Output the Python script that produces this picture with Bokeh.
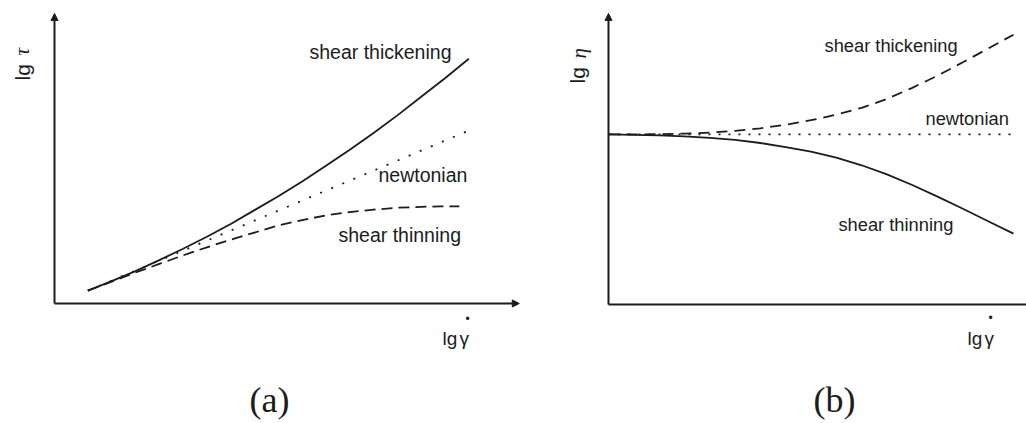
from bokeh.plotting import figure
from bokeh.models import Range1d, Label, Arrow, NormalHead
from bokeh.layouts import row
from bokeh.embed import file_html
from bokeh.resources import INLINE

# ---- (a) flow curves: lg(shear stress) against lg(shear rate) ----
a_rate = [0.7, 1.2, 1.7, 2.2, 2.7, 3.2, 3.7, 4.2, 4.7, 5.2, 5.7, 6.2, 6.7, 7.2, 7.7, 8.2, 8.7]
a_thickening = [0.27, 0.47, 0.68, 0.91, 1.15, 1.40, 1.67, 1.96, 2.25, 2.56, 2.89, 3.23,
                3.58, 3.95, 4.34, 4.73, 5.14]
a_newtonian = [0.27, 0.48, 0.69, 0.90, 1.11, 1.32, 1.53, 1.74, 1.95, 2.16, 2.37, 2.58,
               2.79, 3.00, 3.21, 3.42, 3.63]
a_thin_rate = [0.7, 1.2, 1.7, 2.2, 2.7, 3.2, 3.7, 4.2, 4.7, 5.2, 5.7, 6.2, 6.7, 7.2, 7.7, 8.1, 8.5]
a_thinning = [0.27, 0.46, 0.65, 0.83, 1.01, 1.18, 1.34, 1.49, 1.64, 1.75, 1.85, 1.92,
              1.97, 2.01, 2.03, 2.04, 2.04]

# ---- (b) viscosity curves: lg(viscosity) against lg(shear rate) ----
b_rate = [0, 0.5, 1, 1.5, 2, 2.5, 3, 3.5, 4, 4.5, 5, 5.5, 6, 6.5, 7, 7.5, 8]
b_thickening = [3.36, 3.36, 3.365, 3.375, 3.395, 3.43, 3.48, 3.55, 3.64, 3.75, 3.885,
                4.06, 4.28, 4.52, 4.785, 5.055, 5.33]
b_thinning = [3.36, 3.35, 3.34, 3.32, 3.29, 3.25, 3.19, 3.11, 3.02, 2.90, 2.75, 2.57,
              2.36, 2.13, 1.89, 1.645, 1.40]
b_newt_rate = [0, 8.1]
b_newtonian = [3.36, 3.36]

INK = "#1c1c1c"
SANS = "Liberation Sans"
SERIF = "Liberation Serif"
SHIFT = 0.3  # em; lifts each label so its baseline sits where it is placed


def panel(width, xr, yr):
    return figure(width=width, height=423, x_range=Range1d(*xr), y_range=Range1d(*yr),
                  x_axis_type=None, y_axis_type=None, toolbar_location=None,
                  output_backend="svg", min_border=0, outline_line_color=None,
                  background_fill_color="white", border_fill_color="white")


def axes_arrows(p, x_end, y_end):
    for xe, ye in ((x_end, 0), (0, y_end)):
        p.add_layout(Arrow(x_start=0, y_start=0, x_end=xe, y_end=ye, line_width=2,
                           line_color=INK,
                           end=NormalHead(size=7, fill_color=INK, line_color=INK)))


def text(p, unit, x, y, s, size, font=SANS, align="left", rotated=False, style="normal"):
    lift = SHIFT * size / unit
    if rotated:
        x, angle = x - lift, 1.5708
    else:
        y, angle = y + lift, 0
    p.add_layout(Label(x=x, y=y, text=s, text_font=font, text_font_size=f"{size}px",
                       text_color=INK, text_align=align, text_baseline="alphabetic",
                       angle=angle, text_font_style=style))


# panel (a)
UA = 47.625
pa = panel(540, (-1.134, 10.205), (-2.52, 6.362))
axes_arrows(pa, 9.76, 6.09)
pa.line(a_rate, a_thickening, line_color=INK, line_width=1.8)
pa.line(a_rate, a_newtonian, line_color=INK, line_width=1.8, line_dash="2 10")
pa.line(a_thin_rate, a_thinning, line_color=INK, line_width=1.8, line_dash="11 6")
text(pa, UA, 5.354, 5.165, "shear thickening", 19.5)
text(pa, UA, 6.803, 2.583, "newtonian", 19.5)
text(pa, UA, 5.963, 1.323, "shear thinning", 19.5)
text(pa, UA, -0.546, 4.682, "lg", 21, rotated=True)
text(pa, UA, -0.546, 5.207, "τ", 21, font=SERIF, rotated=True, style="italic")
text(pa, UA, 8.147, -0.861, "lg", 19)
text(pa, UA, 8.504, -0.861, "γ", 19)
text(pa, UA, 8.672, -0.399, "•", 12, align="center")
text(pa, UA, 4.514, -2.247, "(a)", 36, font=SERIF, align="center")

# panel (b)
UB = 50.625
pb = panel(486, (-1.343, 8.257), (-2.351, 6.005))
axes_arrows(pb, 8.45, 5.75)
pb.line(b_rate, b_thinning, line_color=INK, line_width=1.8)
pb.line(b_newt_rate, b_newtonian, line_color=INK, line_width=1.8, line_dash="2 8")
pb.line(b_rate, b_thickening, line_color=INK, line_width=1.8, line_dash="11 7")
text(pb, UB, 4.267, 4.998, "shear thickening", 18.3)
text(pb, UB, 6.262, 3.575, "newtonian", 18.3)
text(pb, UB, 4.543, 1.481, "shear thinning", 18.3)
text(pb, UB, -0.494, 4.365, "lg", 21, rotated=True)
text(pb, UB, -0.454, 4.859, "η", 21, font=SERIF, rotated=True, style="italic")
text(pb, UB, 7.091, -0.790, "lg", 19)
text(pb, UB, 7.427, -0.790, "γ", 19)
text(pb, UB, 7.546, -0.336, "•", 12, align="center")
text(pb, UB, 4.464, -2.094, "(b)", 36, font=SERIF, align="center")

layout = row(pa, pb, spacing=0)
open("out.html", "w").write(file_html(layout, INLINE))
